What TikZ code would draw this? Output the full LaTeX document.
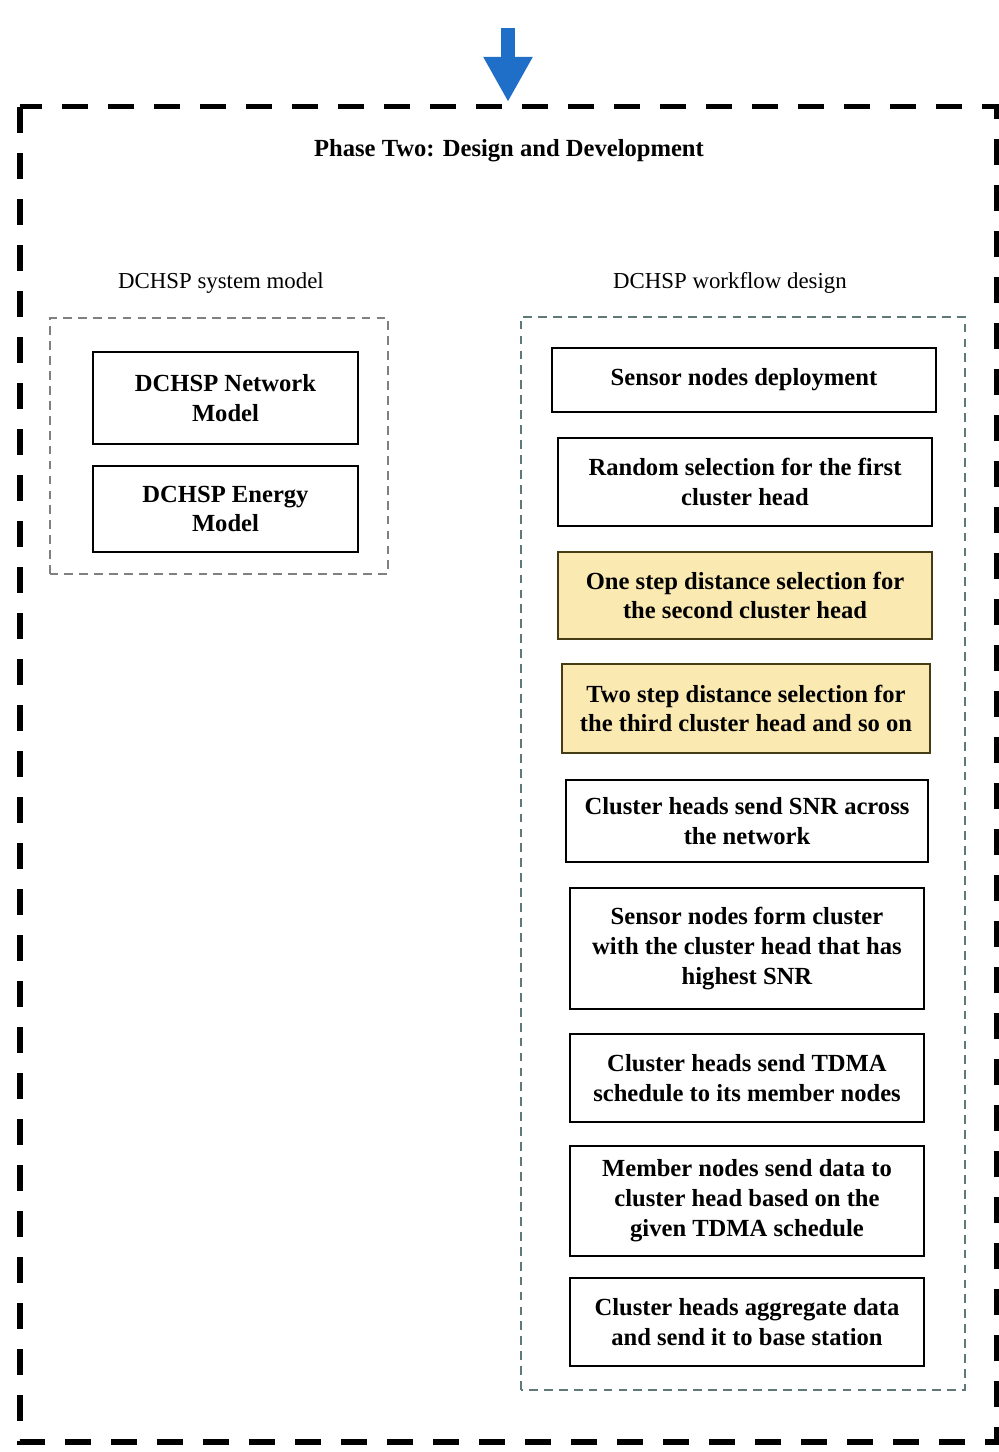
\documentclass[tikz,border=0pt]{standalone}
\usepackage{fontspec}
\setmainfont{Liberation Serif}
\usepackage{tikz}
\usetikzlibrary{arrows.meta}
\definecolor{dblue}{RGB}{31,110,200}
\definecolor{pale}{RGB}{251,233,178}
\definecolor{olive}{RGB}{70,60,20}
\definecolor{tgray}{RGB}{95,120,120}

\tikzset{
  stepbox/.style={draw=black, line width=1pt, align=center, inner sep=2pt,
    font=\fontsize{14}{17}\selectfont\bfseries},
  hibox/.style={stepbox, draw=olive, fill=pale},
  group/.style={draw=tgray, line width=0.9pt, dash pattern=on 5pt off 3.5pt},
}

\begin{document}
\begin{tikzpicture}
  \useasboundingbox (0,0) rectangle (19.96,29.04);

  % Outer frame of phase two
  \draw[black, line width=0.1cm, dash pattern=on 0.52cm off 0.4cm] (0.4,26.9) rectangle (19.92,0.2);
  \coordinate (arrtop) at (10.16,28.48);
  \coordinate (arrtip) at (10.16,27.0);
  \draw[dblue, line width=0.28cm, -{Triangle[width=0.92cm, length=0.9cm]}] (arrtop) -- (arrtip);
  \node[font=\fontsize{14}{17}\selectfont\bfseries] (title) at (10.18,26.02) {Phase Two: Design and Development};

  % System model
  \node[font=\fontsize{13}{16}\selectfont] (syslbl) at (4.42,23.38) {DCHSP system model};
  \draw[group, draw=gray] (1.0,17.56) rectangle (7.76,22.68);
  \node[stepbox, minimum width=5.3cm, minimum height=1.84cm] (net) at (4.51,21.08) {DCHSP Network\\Model};
  \node[stepbox, minimum width=5.3cm, minimum height=1.72cm] (energy) at (4.51,18.86) {DCHSP Energy\\Model};

  % Workflow design
  \node[font=\fontsize{13}{16}\selectfont] (wflbl) at (14.6,23.38) {DCHSP workflow design};
  \draw[group] (10.42,1.24) rectangle (19.30,22.70);
  \node[stepbox, minimum width=7.68cm, minimum height=1.28cm] (deploy) at (14.88,21.44) {Sensor nodes deployment};
  \node[stepbox, minimum width=7.48cm, minimum height=1.76cm] (random) at (14.90,19.40) {Random selection for the first\\cluster head};
  \node[hibox, minimum width=7.48cm, minimum height=1.74cm] (onestep) at (14.90,17.13) {One step distance selection for\\the second cluster head};
  \node[hibox, minimum width=7.36cm, minimum height=1.78cm] (twostep) at (14.92,14.87) {Two step distance selection for\\the third cluster head and so on};
  \node[stepbox, minimum width=7.24cm, minimum height=1.64cm] (snr) at (14.94,12.62) {Cluster heads send SNR across\\the network};
  \node[stepbox, minimum width=7.08cm, minimum height=2.42cm] (form) at (14.94,10.07) {Sensor nodes form cluster\\with the cluster head that has\\highest SNR};
  \node[stepbox, minimum width=7.08cm, minimum height=1.76cm] (tdma) at (14.94,7.48) {Cluster heads send TDMA\\schedule to its member nodes};
  \node[stepbox, minimum width=7.08cm, minimum height=2.20cm] (member) at (14.94,5.02) {Member nodes send data to\\cluster head based on the\\given TDMA schedule};
  \node[stepbox, minimum width=7.08cm, minimum height=1.76cm] (aggr) at (14.94,2.60) {Cluster heads aggregate data\\and send it to base station};
\end{tikzpicture}
\end{document}
